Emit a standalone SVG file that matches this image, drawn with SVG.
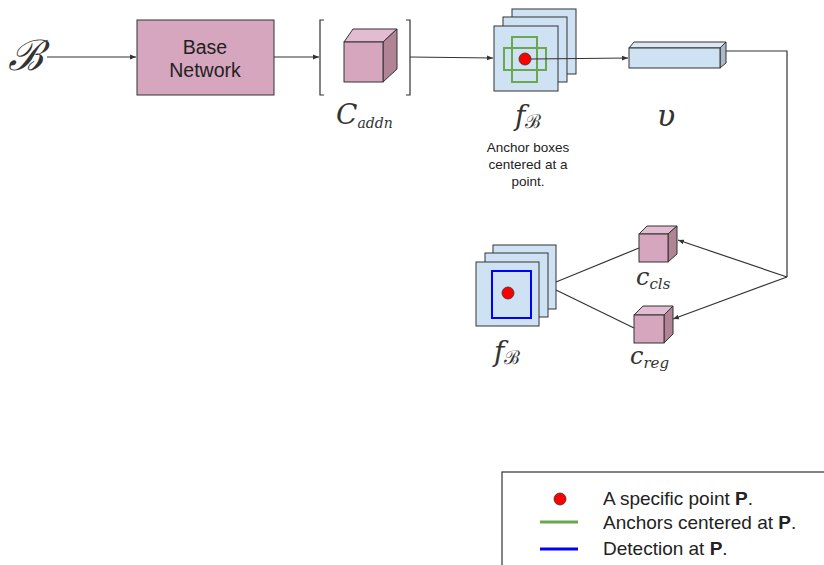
<svg xmlns="http://www.w3.org/2000/svg" width="824" height="565" viewBox="0 0 824 565">
<style>
.sans{font-family:"Liberation Sans",Arial,sans-serif;fill:#222}
.math{font-family:"DejaVu Serif","Liberation Serif",serif;font-style:italic;fill:#333}
.ln{stroke:#333;stroke-width:1.2;fill:none}
.pink{fill:#d5a6bd;stroke:#333;stroke-width:1}
.pinkt{fill:#e2bcd0;stroke:#333;stroke-width:1}
.pinks{fill:#b08494;stroke:#333;stroke-width:1}
.blue{fill:#cfe2f3;stroke:#333;stroke-width:1}
.bluet{fill:#dce9f5;stroke:#333;stroke-width:1}
.blues{fill:#a9b9c8;stroke:#333;stroke-width:1}
</style>
<defs>
<marker id="ah" viewBox="0 0 10 10" refX="10" refY="5" markerWidth="6" markerHeight="6" orient="auto" markerUnits="userSpaceOnUse">
<path d="M0,1 L10,5 L0,9 z" fill="#333"/>
</marker>
</defs>
<rect width="824" height="565" fill="#fff"/>

<g id="input">
<text x="25" y="70" class="math" font-size="42" text-anchor="middle" font-style="normal">ℬ</text>
</g>

<g id="base-network">
<rect x="137" y="20" width="137" height="75" class="pink"/>
<text x="205" y="54" class="sans" font-size="19.5" text-anchor="middle">Base</text>
<text x="205" y="77" class="sans" font-size="19.5" text-anchor="middle">Network</text>
</g>

<g id="c-addn">
<path d="M324,20 H320 V95 H324 M406,20 H410 V95 H406" class="ln"/>
<polygon points="344,42 353,29 397,29 383,42" class="pinkt"/>
<polygon points="383,42 397,29 397,69 383,82" class="pinks"/>
<rect x="344" y="42" width="39" height="40" class="pink"/>
<text x="336" y="124" class="math" font-size="28">C<tspan font-size="14" dy="4">addn</tspan></text>
</g>

<g id="fb-top">
<rect x="512" y="9" width="64" height="65" class="blue"/>
<rect x="503" y="17" width="64" height="65" class="blue"/>
<rect x="494" y="26" width="64" height="65" class="blue"/>
<rect x="512" y="37" width="25" height="45" fill="none" stroke="#6aa84f" stroke-width="2"/>
<rect x="504" y="48" width="42" height="22" fill="none" stroke="#6aa84f" stroke-width="2"/>
<circle cx="525" cy="59" r="6" fill="#f00" stroke="#333" stroke-width="0.8"/>
<text x="515" y="125" class="math" font-size="28">f<tspan font-size="19" dy="3" font-style="normal">ℬ</tspan></text>
<text x="528" y="152" class="sans" font-size="13.5" text-anchor="middle">Anchor boxes</text>
<text x="528" y="169" class="sans" font-size="13.5" text-anchor="middle">centered at a</text>
<text x="528" y="186" class="sans" font-size="13.5" text-anchor="middle">point.</text>
</g>

<g id="v-vector">
<polygon points="629,48 634,42 726,42 720,48" class="bluet"/>
<polygon points="720,48 726,42 726,63 720,68" class="blues"/>
<rect x="629" y="48" width="91" height="20" class="blue"/>
<text x="666" y="126" class="math" font-size="30" text-anchor="middle">υ</text>
</g>

<g id="c-cls">
<polygon points="639,234 647,226 677,226 668,234" class="pinkt"/>
<polygon points="668,234 677,226 677,254 668,262" class="pinks"/>
<rect x="639" y="234" width="29" height="28" class="pink"/>
<text x="636" y="285" class="math" font-size="24" font-style="normal">c<tspan font-size="15" dy="4" font-style="italic">cls</tspan></text>
</g>

<g id="c-reg">
<polygon points="634,315 643,306 673,306 664,315" class="pinkt"/>
<polygon points="664,315 673,306 673,334 664,343" class="pinks"/>
<rect x="634" y="315" width="30" height="28" class="pink"/>
<text x="630" y="364" class="math" font-size="24" font-style="normal">c<tspan font-size="15" dy="4" font-style="italic">reg</tspan></text>
</g>

<g id="fb-bottom">
<rect x="493" y="245" width="63" height="64" class="blue"/>
<rect x="485" y="253" width="63" height="64" class="blue"/>
<rect x="476" y="262" width="63" height="64" class="blue"/>
<rect x="492" y="271" width="39" height="47" fill="none" stroke="#0000ff" stroke-width="2"/>
<circle cx="508" cy="293" r="6" fill="#f00" stroke="#333" stroke-width="0.8"/>
<text x="494" y="361" class="math" font-size="28">f<tspan font-size="19" dy="3" font-style="normal">ℬ</tspan></text>
</g>

<g id="connectors">
<line x1="47" y1="57" x2="136" y2="57" class="ln" marker-end="url(#ah)"/>
<line x1="274" y1="57" x2="319" y2="57" class="ln" marker-end="url(#ah)"/>
<line x1="410" y1="57" x2="493" y2="58" class="ln" marker-end="url(#ah)"/>
<line x1="531" y1="59" x2="628" y2="58" class="ln" marker-end="url(#ah)"/>
<polyline points="726,51 787,51 787,277" class="ln"/>
<line x1="787" y1="277" x2="678" y2="240" class="ln" marker-end="url(#ah)"/>
<line x1="787" y1="277" x2="673" y2="319" class="ln" marker-end="url(#ah)"/>
<line x1="556" y1="282" x2="639" y2="248" class="ln"/>
<line x1="556" y1="290" x2="634" y2="328" class="ln"/>
</g>

<g id="legend">
<rect x="502" y="472" width="330" height="100" fill="#fff" stroke="#333" stroke-width="1.2"/>
<circle cx="560" cy="499" r="6" fill="#f00" stroke="#333" stroke-width="0.8"/>
<line x1="540" y1="522" x2="578" y2="522" stroke="#6aa84f" stroke-width="3"/>
<line x1="540" y1="549" x2="578" y2="549" stroke="#0000ff" stroke-width="3"/>
<text x="603" y="505" class="sans" font-size="19">A specific point <tspan font-weight="bold">P</tspan>.</text>
<text x="603" y="529" class="sans" font-size="19">Anchors centered at <tspan font-weight="bold">P</tspan>.</text>
<text x="603" y="555" class="sans" font-size="19">Detection at <tspan font-weight="bold">P</tspan>.</text>
</g>
</svg>
